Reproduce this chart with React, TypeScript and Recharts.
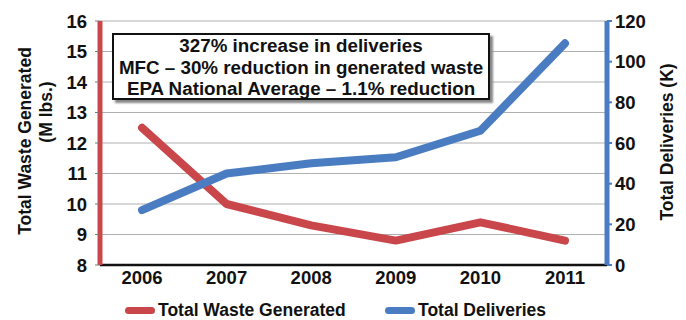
import {
  LineChart,
  Line,
  XAxis,
  YAxis,
  CartesianGrid,
  Legend,
} from "recharts";

const years = ["2006", "2007", "2008", "2009", "2010", "2011"];
const wasteGenerated = [12.5, 10.0, 9.3, 8.8, 9.4, 8.8];
const totalDeliveries = [27, 45, 50, 53, 66, 109];
const wasteTicks = [8, 9, 10, 11, 12, 13, 14, 15, 16];
const deliveryTicks = [0, 20, 40, 60, 80, 100, 120];
const noteLines = [
  "327% increase in deliveries",
  "MFC \u2013 30% reduction in generated waste",
  "EPA National Average \u2013 1.1% reduction",
];

const RED = "#C9464B";
const BLUE = "#4A7CC2";
const FONT = '"Liberation Sans", Arial, sans-serif';

const data = years.map((year, i) => ({
  year,
  waste: wasteGenerated[i],
  deliveries: totalDeliveries[i],
}));

function LegendContent() {
  const items = [
    { label: "Total Waste Generated", color: RED, left: 125 },
    { label: "Total Deliveries", color: BLUE, left: 385 },
  ];
  return (
    <div style={{ position: "relative", height: 25, fontFamily: FONT }}>
      {items.map((it) => (
        <div
          key={it.label}
          style={{
            position: "absolute",
            left: it.left,
            top: 3,
            height: 25,
            display: "flex",
            alignItems: "center",
            whiteSpace: "nowrap",
          }}
        >
          <span
            style={{
              display: "inline-block",
              width: 30,
              height: 7,
              borderRadius: 4,
              background: it.color,
              marginRight: 3,
            }}
          />
          <span style={{ fontSize: 17.5, fontWeight: 700, color: "#111" }}>
            {it.label}
          </span>
        </div>
      ))}
    </div>
  );
}

const titleStyle = {
  position: "absolute" as const,
  transform: "translate(-50%, -50%) rotate(-90deg)",
  fontSize: 17.5,
  fontWeight: 700,
  color: "#111",
  whiteSpace: "nowrap" as const,
};

export default function App() {
  return (
    <div
      style={{
        position: "absolute",
        left: 0,
        top: 0,
        width: 686,
        height: 320,
        background: "#fff",
        fontFamily: FONT,
      }}
    >
      <LineChart
        width={686}
        height={320}
        data={data}
        margin={{ top: 21, right: 0, left: 0, bottom: 0 }}
      >
        <CartesianGrid
          yAxisId="waste"
          vertical={false}
          stroke="#b0b0b0"
          strokeWidth={1}
        />
        <XAxis
          dataKey="year"
          padding={{ left: 42, right: 42 }}
          height={30}
          tickLine={false}
          tickSize={0}
          tickMargin={6}
          axisLine={{ stroke: "#111", strokeWidth: 2.5 }}
          tick={{ fill: "#111", fontSize: 18.5, fontWeight: 700, fontFamily: FONT }}
        />
        <YAxis
          yAxisId="waste"
          orientation="left"
          width={100}
          domain={[8, 16]}
          ticks={wasteTicks}
          interval={0}
          tickSize={5}
          tickMargin={8}
          axisLine={{ stroke: RED, strokeWidth: 5 }}
          tickLine={{ stroke: "#777" }}
          tick={{ fill: "#111", fontSize: 18.5, fontWeight: 700, fontFamily: FONT }}
        />
        <YAxis
          yAxisId="deliveries"
          orientation="right"
          width={79}
          domain={[0, 120]}
          ticks={deliveryTicks}
          interval={0}
          tickSize={5}
          tickMargin={3}
          axisLine={{ stroke: BLUE, strokeWidth: 5 }}
          tickLine={{ stroke: BLUE, strokeWidth: 2 }}
          tick={{ fill: "#111", fontSize: 18.5, fontWeight: 700, fontFamily: FONT }}
        />
        <Legend verticalAlign="bottom" content={<LegendContent />} />
        <Line
          yAxisId="waste"
          type="linear"
          dataKey="waste"
          name="Total Waste Generated"
          stroke={RED}
          strokeWidth={8}
          strokeLinecap="round"
          strokeLinejoin="round"
          dot={false}
          isAnimationActive={false}
        />
        <Line
          yAxisId="deliveries"
          type="linear"
          dataKey="deliveries"
          name="Total Deliveries"
          stroke={BLUE}
          strokeWidth={8}
          strokeLinecap="round"
          strokeLinejoin="round"
          dot={false}
          isAnimationActive={false}
        />
      </LineChart>

      {/* axis titles */}
      <div style={{ ...titleStyle, left: 25, top: 141 }}>Total Waste Generated</div>
      <div style={{ ...titleStyle, left: 46, top: 112 }}>(M lbs.)</div>
      <div style={{ ...titleStyle, left: 667, top: 142 }}>Total Deliveries (K)</div>

      {/* annotation box */}
      <div
        style={{
          position: "absolute",
          left: 112,
          top: 33,
          width: 374,
          height: 63,
          border: "2px solid #111",
          background: "#fff",
          boxShadow: "3px 3px 2px #888",
          textAlign: "center",
          fontSize: 18.8,
          fontWeight: 700,
          lineHeight: "21.5px",
          color: "#111",
          whiteSpace: "nowrap",
        }}
      >
        {noteLines.map((t) => (
          <div key={t}>{t}</div>
        ))}
      </div>
    </div>
  );
}
